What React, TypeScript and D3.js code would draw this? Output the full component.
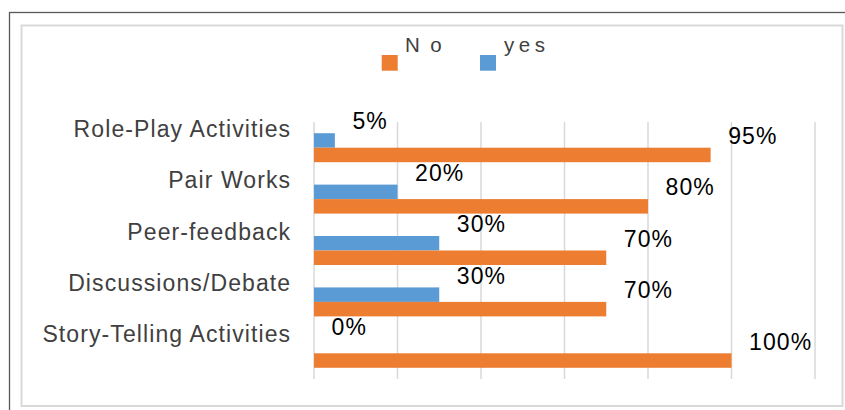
import React from "react";
import * as d3 from "d3";

const categories = [
  "Role-Play Activities",
  "Pair Works",
  "Peer-feedback",
  "Discussions/Debate",
  "Story-Telling Activities",
];
const yesValues = [5, 20, 30, 30, 0];
const noValues = [95, 80, 70, 70, 100];
const seriesNames = ["yes", "No"];
const xTicks = [0, 20, 40, 60, 80, 100, 120];

const W = 845;
const H = 410;
const ORANGE = "#ED7D31";
const BLUE = "#5B9BD5";
const FONT = "'Liberation Sans', Arial, sans-serif";

export default function App() {
  const x = d3.scaleLinear().domain([0, 120]).range([314, 815]);
  const y = d3
    .scaleBand<string>()
    .domain(categories)
    .range([122, 379])
    .paddingInner(0.436)
    .paddingOuter(0.218);
  const sub = d3
    .scaleBand<string>()
    .domain(seriesNames)
    .range([0, y.bandwidth()])
    .padding(0);

  const rows = categories.map((c, i) => ({
    cat: c,
    vals: [
      { key: "yes", v: yesValues[i], color: BLUE },
      { key: "No", v: noValues[i], color: ORANGE },
    ],
  }));

  return (
    <svg
      width={W}
      height={H}
      style={{ position: "absolute", left: 0, top: 0, background: "#fff" }}
    >
      <rect x={0} y={0} width={W} height={H} fill="#fff" />
      {/* outer frame */}
      <rect x={9.5} y={12.5} width={860} height={420} fill="none" stroke="#595959" strokeWidth={1.3} />
      {/* chart area border */}
      <rect x={21.5} y={25.5} width={821} height={380.5} fill="none" stroke="#d9d9d9" strokeWidth={2} />

      {/* gridlines */}
      {xTicks.map((t) => (
        <line
          key={t}
          x1={x(t)}
          x2={x(t)}
          y1={122}
          y2={379}
          stroke="#d9d9d9"
          strokeWidth={1.5}
        />
      ))}

      {/* bars */}
      {rows.map((r) =>
        r.vals.map((d) => {
          const by = (y(r.cat) as number) + (sub(d.key) as number);
          const bh = sub.bandwidth();
          return (
            <rect
              key={r.cat + d.key}
              x={x(0)}
              y={by}
              width={Math.max(0, x(d.v) - x(0))}
              height={bh}
              fill={d.color}
            />
          );
        })
      )}

      {/* data labels */}
      {rows.map((r) =>
        r.vals.map((d) => {
          const cy = (y(r.cat) as number) + (sub(d.key) as number) + sub.bandwidth() / 2;
          return (
            <text
              key={"l" + r.cat + d.key}
              x={x(d.v) + 17.5}
              y={cy - 11}
              fontFamily={FONT}
              fontSize={23}
              letterSpacing={1.1}
              fill="#000"
            >
              {d.v + "%"}
            </text>
          );
        })
      )}

      {/* category labels */}
      {categories.map((c) => (
        <text
          key={"c" + c}
          x={291.2}
          y={(y(c) as number) + y.bandwidth() / 2 - 11}
          textAnchor="end"
          fontFamily={FONT}
          fontSize={23}
          letterSpacing={1.1}
          fill="#404040"
        >
          {c}
        </text>
      ))}

      {/* legend */}
      <rect x={381.7} y={55} width={16} height={15.7} fill={ORANGE} />
      <text x={405} y={52.3} fontFamily={FONT} fontSize={20.5} letterSpacing={10.5} fill="#404040">
        No
      </text>
      <rect x={480} y={55} width={16} height={15.7} fill={BLUE} />
      <text x={504} y={52.3} fontFamily={FONT} fontSize={20.5} letterSpacing={4.5} fill="#404040">
        yes
      </text>
    </svg>
  );
}
